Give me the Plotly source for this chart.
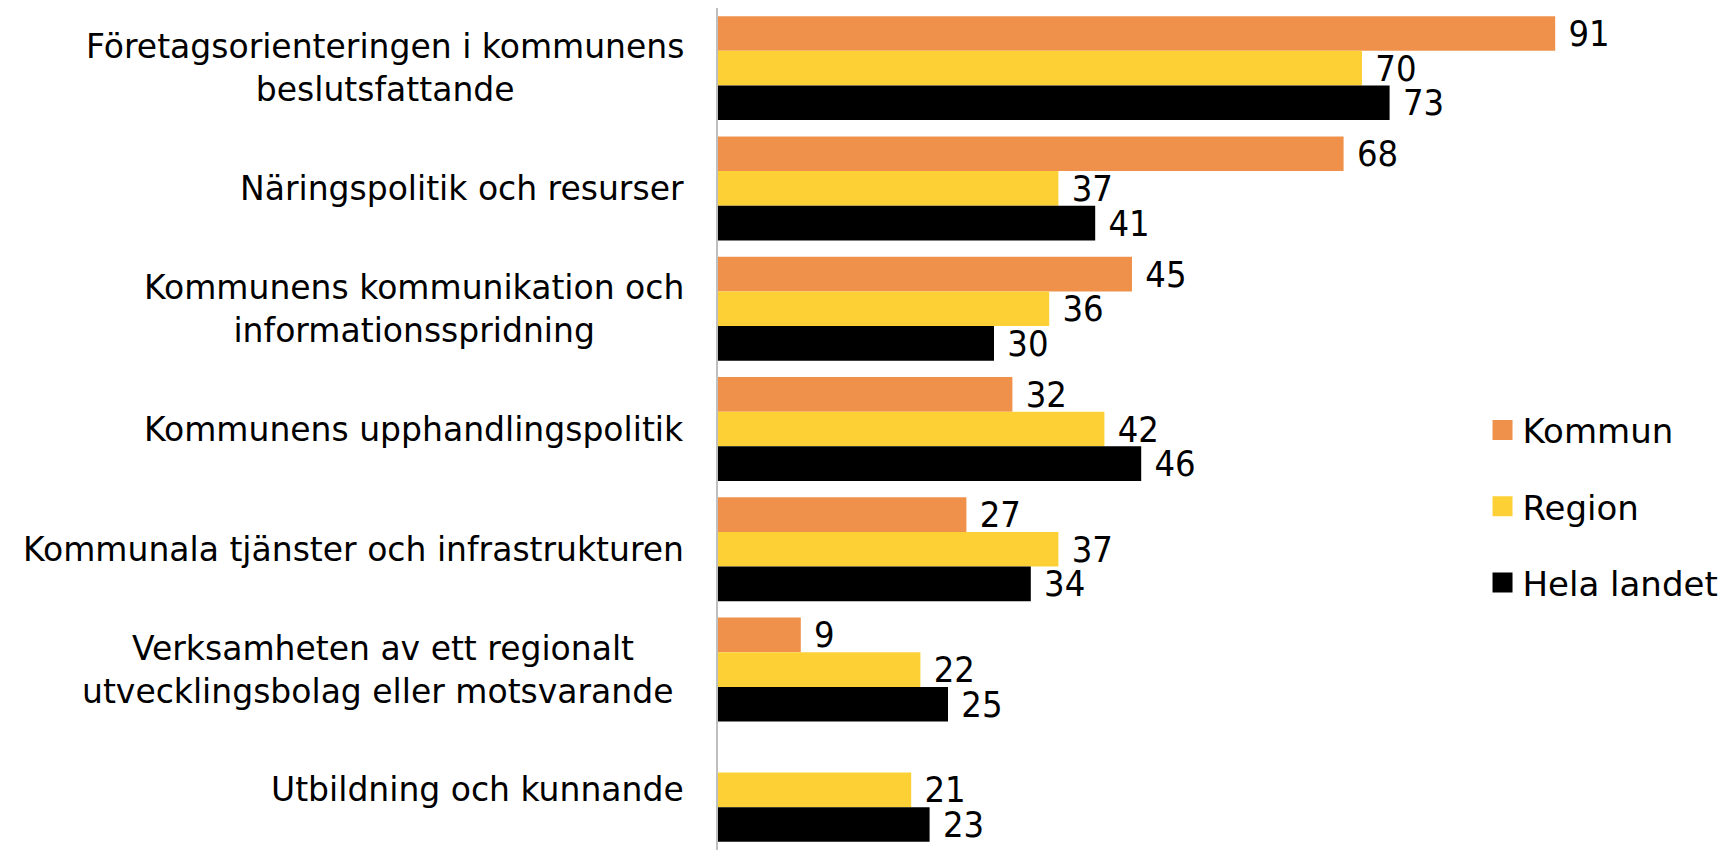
import plotly.graph_objects as go

categories = [
    "Företagsorienteringen i kommunens<br>beslutsfattande",
    "Näringspolitik och resurser",
    "Kommunens kommunikation och<br>informationsspridning",
    "Kommunens upphandlingspolitik",
    "Kommunala tjänster och infrastrukturen",
    "Verksamheten av ett regionalt<br>utvecklingsbolag eller motsvarande\u00a0",
    "Utbildning och kunnande",
]
cat_ids = ["c1", "c2", "c3", "c4", "c5", "c6", "c7"]

series_names = ["Kommun", "Region", "Hela landet"]
kommun = [91, 68, 45, 32, 27, 9, None]
region = [70, 37, 36, 42, 37, 22, 21]
hela_landet = [73, 41, 30, 46, 34, 25, 23]
colors = ["#F0914B", "#FDD136", "#000000"]

LABEL_FONT = "DejaVu Sans"
NUM_FONT = "Liberation Sans Narrow, DejaVu Sans Condensed, Arial Narrow, sans-serif"

fig = go.Figure()
for name, vals, col in zip(series_names, [kommun, region, hela_landet], colors):
    fig.add_trace(go.Bar(
        name=name, y=cat_ids, x=vals, orientation="h",
        marker=dict(color=col, line=dict(width=0)),
        text=[("\u00a0" + str(v)) if v is not None else "" for v in vals],
        textposition="outside", cliponaxis=False, constraintext="none",
        textfont=dict(family=NUM_FONT, size=36, color="#000000"),
        showlegend=False, hoverinfo="skip",
    ))

for name, col in zip(series_names, colors):
    fig.add_trace(go.Scatter(
        name=name, x=[None], y=[None], mode="markers",
        marker=dict(symbol="square", size=16, color=col, line=dict(color=col, width=4)),
        legendgroup=name, showlegend=True,
    ))

for cid, lab in zip(cat_ids, categories):
    fig.add_annotation(
        x=-0.035, xref="paper", y=cid, yref="y", text=lab,
        xanchor="right", yanchor="middle", align="center", showarrow=False,
        font=dict(family=LABEL_FONT, size=33, color="#000000"),
    )

fig.update_layout(
    width=1722, height=842,
    margin=dict(l=710, r=92, t=0, b=0),
    plot_bgcolor="white", paper_bgcolor="white",
    barmode="group", bargap=0.136, bargroupgap=0,
    xaxis=dict(range=[0, 100], visible=False, fixedrange=True),
    yaxis=dict(autorange="reversed", showticklabels=False, ticks="",
               showline=True, linecolor="#BFBFBF", linewidth=2,
               showgrid=False, zeroline=False, fixedrange=True),
    legend=dict(x=0.831, xanchor="left", y=0.408, yanchor="middle",
                font=dict(family=LABEL_FONT, size=34, color="#000000"),
                tracegroupgap=29, bgcolor="rgba(0,0,0,0)", itemclick=False),
    showlegend=True,
)

fig.write_html("out.html")
